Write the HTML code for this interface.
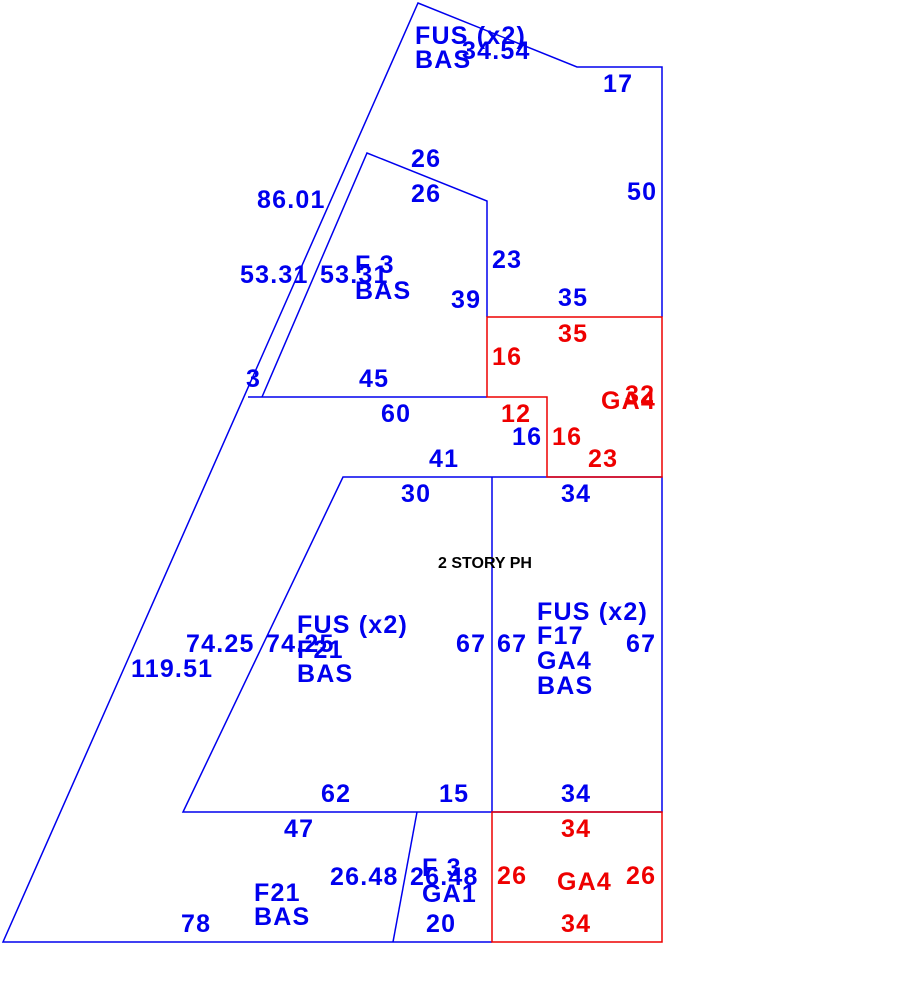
<!DOCTYPE html>
<html><head><style>
body{margin:0;background:#fff;width:910px;height:990px;overflow:hidden}
svg text{font-family:"Liberation Sans",sans-serif;font-weight:bold;font-size:25px;letter-spacing:1.2px}
.b{fill:#0000ee}.r{fill:#ee0000}
</style></head><body>
<svg width="910" height="990" viewBox="0 0 910 990" xmlns="http://www.w3.org/2000/svg">
<g fill="none" stroke="#0000ee" stroke-width="1.5">
<polyline points="662,317 662,67 577,67 418,3 3,942 393,942"/>
<polyline points="487,317 487,201 367,153 262,397"/>
<line x1="248" y1="397" x2="487" y2="397"/>
<polyline points="547,477 343,477 183,812 492,812 492,477"/>
<polyline points="547,477 662,477 662,812 492,812"/>
<line x1="417" y1="812" x2="393" y2="942"/>
<line x1="393" y1="942" x2="492" y2="942"/>
</g>
<g fill="none" stroke="#ee0000" stroke-width="1.5">
<polygon points="487,317 662,317 662,477 547,477 547,397 487,397"/>
<rect x="492" y="812" width="170" height="130"/>
</g>
<g class="b">
<text x="415" y="44">FUS (x2)</text><text x="415" y="68">BAS</text>
<text x="462" y="59">34.54</text>
<text x="603" y="92">17</text>
<text x="627" y="200">50</text>
<text x="411" y="167">26</text><text x="411" y="202">26</text>
<text x="257" y="208">86.01</text>
<text x="240" y="283">53.31</text><text x="320" y="283">53.31</text>
<text x="355" y="273">F 3</text><text x="355" y="299">BAS</text>
<text x="492" y="268">23</text><text x="451" y="308">39</text>
<text x="558" y="306">35</text>
<text x="246" y="387">3</text><text x="359" y="387">45</text>
<text x="381" y="422">60</text>
<text x="429" y="467">41</text><text x="512" y="445">16</text>
<text x="401" y="502">30</text><text x="561" y="502">34</text>
<text x="297" y="633">FUS (x2)</text><text x="297" y="658">F21</text><text x="297" y="682">BAS</text>
<text x="186" y="652">74.25</text><text x="266" y="652">74.25</text>
<text x="131" y="677">119.51</text>
<text x="456" y="652">67</text><text x="497" y="652">67</text><text x="626" y="652">67</text>
<text x="537" y="620">FUS (x2)</text><text x="537" y="644">F17</text><text x="537" y="669">GA4</text><text x="537" y="694">BAS</text>
<text x="321" y="802">62</text><text x="439" y="802">15</text><text x="561" y="802">34</text>
<text x="284" y="837">47</text>
<text x="330" y="885">26.48</text><text x="410" y="885">26.48</text>
<text x="422" y="876">F 3</text><text x="422" y="902">GA1</text>
<text x="254" y="901">F21</text><text x="254" y="925">BAS</text>
<text x="181" y="932">78</text><text x="426" y="932">20</text>
<text x="438" y="568" style="font-size:16px;letter-spacing:0;fill:#000">2 STORY PH</text>
</g>
<g class="r">
<text x="558" y="342">35</text><text x="492" y="365">16</text>
<text x="625" y="403">32</text><text x="601" y="409">GA4</text>
<text x="501" y="422">12</text><text x="552" y="445">16</text><text x="588" y="467">23</text>
<text x="561" y="837">34</text><text x="497" y="884">26</text><text x="557" y="890">GA4</text><text x="626" y="884">26</text>
<text x="561" y="932">34</text>
</g>
</svg>
</body></html>
